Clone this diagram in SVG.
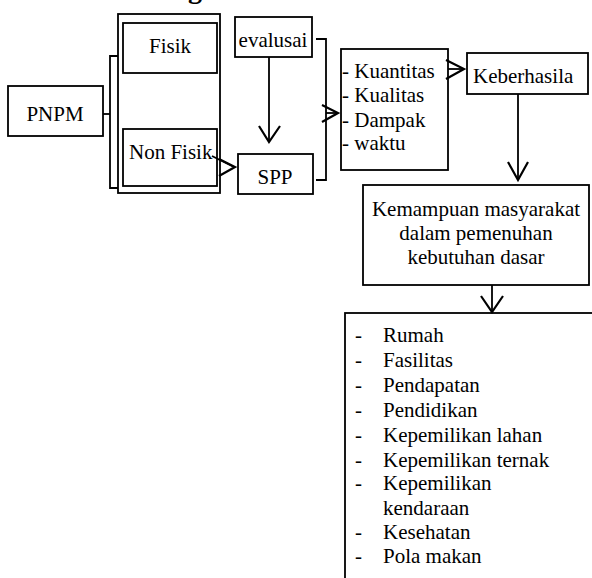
<svg xmlns="http://www.w3.org/2000/svg" width="592" height="578" viewBox="0 0 592 578">
<defs>
<style>
.b{fill:#fff;stroke:#000;stroke-width:1.8}
.l{fill:none;stroke:#000;stroke-width:1.8}
.a{fill:none;stroke:#000;stroke-width:2.2}
.c{text-anchor:middle}
</style>
</defs>
<rect width="592" height="578" fill="#fff"/>
<text font-family="Liberation Serif" font-size="28" font-weight="bold" x="188" y="-2">g</text>
<g id="pnpm"><rect class="b" x="8" y="86" width="95" height="50"/><text font-family="Liberation Serif" font-size="21" class="c" x="55" y="121">PNPM</text></g>
<g id="group"><rect class="b" x="118" y="14" width="102" height="179"/></g>
<g id="fisik"><rect class="b" x="123" y="23" width="94" height="50"/><text font-family="Liberation Serif" font-size="21" class="c" x="170" y="53">Fisik</text></g>
<g id="nonfisik"><rect class="b" x="123" y="129" width="94" height="57"/><text font-family="Liberation Serif" font-size="21" x="129" y="159">Non Fisik</text></g>
<g id="evalusai"><rect class="b" x="235" y="17" width="77" height="40"/><text font-family="Liberation Serif" font-size="21" class="c" x="273" y="47">evalusai</text></g>
<g id="spp"><rect class="b" x="238" y="154" width="75" height="40"/><text font-family="Liberation Serif" font-size="21" class="c" x="275" y="184">SPP</text></g>
<g id="indikator"><rect class="b" x="341" y="49" width="107" height="121"/>
<text font-family="Liberation Serif" font-size="21" x="342" y="78">- Kuantitas</text><text font-family="Liberation Serif" font-size="21" x="342" y="102">- Kualitas</text><text font-family="Liberation Serif" font-size="21" x="342" y="127">- Dampak</text><text font-family="Liberation Serif" font-size="21" x="342" y="150">- waktu</text></g>
<g id="keberhasilan"><rect class="b" x="467" y="53" width="121" height="41"/><text font-family="Liberation Serif" font-size="21" x="473" y="83">Keberhasila</text></g>
<g id="kemampuan"><rect class="b" x="363" y="185" width="226" height="100"/>
<text font-family="Liberation Serif" font-size="21" class="c" x="476" y="216">Kemampuan masyarakat</text><text font-family="Liberation Serif" font-size="21" class="c" x="476" y="240">dalam pemenuhan</text><text font-family="Liberation Serif" font-size="21" class="c" x="476" y="264">kebutuhan dasar</text></g>
<g id="kebutuhan"><rect class="b" x="345" y="313" width="260" height="300"/>
<text font-family="Liberation Serif" font-size="21" x="355" y="342">-</text><text font-family="Liberation Serif" font-size="21" x="383" y="342">Rumah</text>
<text font-family="Liberation Serif" font-size="21" x="355" y="367">-</text><text font-family="Liberation Serif" font-size="21" x="383" y="367">Fasilitas</text>
<text font-family="Liberation Serif" font-size="21" x="355" y="392">-</text><text font-family="Liberation Serif" font-size="21" x="383" y="392">Pendapatan</text>
<text font-family="Liberation Serif" font-size="21" x="355" y="417">-</text><text font-family="Liberation Serif" font-size="21" x="383" y="417">Pendidikan</text>
<text font-family="Liberation Serif" font-size="21" x="355" y="442">-</text><text font-family="Liberation Serif" font-size="21" x="383" y="442">Kepemilikan lahan</text>
<text font-family="Liberation Serif" font-size="21" x="355" y="467">-</text><text font-family="Liberation Serif" font-size="21" x="383" y="467">Kepemilikan ternak</text>
<text font-family="Liberation Serif" font-size="21" x="355" y="490">-</text><text font-family="Liberation Serif" font-size="21" x="383" y="490">Kepemilikan</text>
<text font-family="Liberation Serif" font-size="21" x="383" y="515">kendaraan</text>
<text font-family="Liberation Serif" font-size="21" x="355" y="539">-</text><text font-family="Liberation Serif" font-size="21" x="383" y="539">Kesehatan</text>
<text font-family="Liberation Serif" font-size="21" x="355" y="563">-</text><text font-family="Liberation Serif" font-size="21" x="383" y="563">Pola makan</text>
</g>
<g id="connectors">
<polyline class="l" points="103,114 110,114"/>
<polyline class="l" points="118,56 110,56 110,188 118,188"/>
<line class="l" x1="212" y1="156" x2="234" y2="167"/>
<polyline class="a" points="219,159 235,167 219,176"/>
<line class="l" x1="269" y1="57" x2="269" y2="142"/>
<polyline class="a" points="259,126 269,142 280,126"/>
<polyline class="l" points="316,39 326,39 326,180 316,180"/>
<line class="l" x1="326" y1="113" x2="337" y2="113"/>
<polyline class="a" points="322,105 338,113 322,122"/>
<line class="l" x1="448" y1="69" x2="463" y2="69"/>
<polyline class="a" points="446,60 464,69 446,79"/>
<line class="l" x1="518" y1="94" x2="518" y2="180"/>
<polyline class="a" points="508,162 518,180 528,162"/>
<line class="l" x1="492" y1="285" x2="492" y2="311"/>
<polyline class="a" points="481,296 492,312 503,296"/>
</g>
</svg>
